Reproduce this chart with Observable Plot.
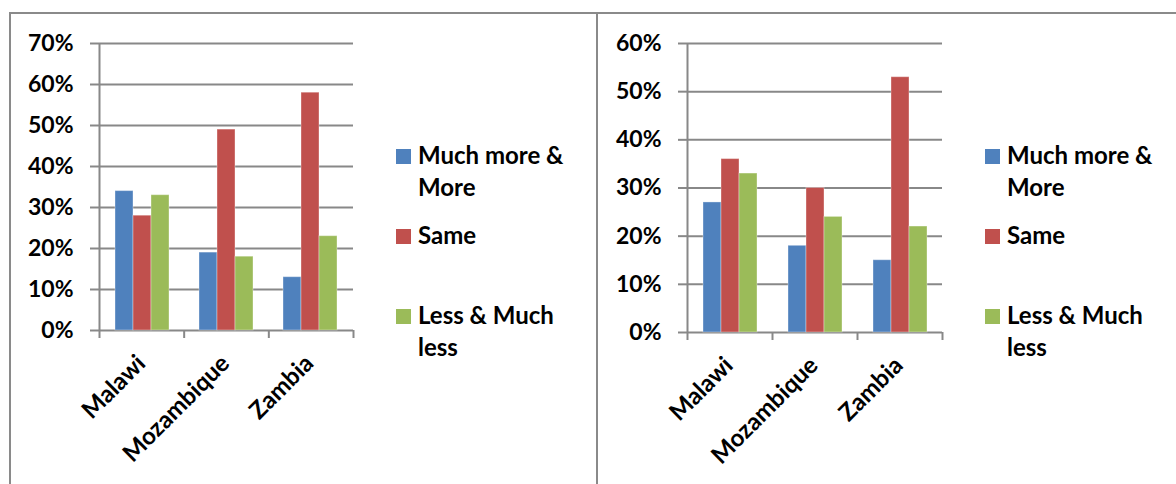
<!DOCTYPE html>
<html><head><meta charset="utf-8">
<script src="https://cdn.jsdelivr.net/npm/d3@7"></script>
<script src="https://cdn.jsdelivr.net/npm/@observablehq/plot@0.6"></script>
<style>
body{margin:0;background:#fff;}
#root{position:relative;width:1176px;height:484px;overflow:hidden;background:#fff;font-family:Lato,sans-serif;}
#root svg{position:absolute;left:0;top:0;}
.frame{position:absolute;border-color:#8a8a8a;border-style:solid;border-width:0;}
</style></head><body>
<div id="root">
<div class="frame" style="left:9px;top:12px;width:1200px;height:500px;border-left-width:2px;border-top-width:2px"></div>
<div class="frame" style="left:596px;top:12px;width:0;height:500px;border-left-width:2px"></div>
</div>
<script>
const categories = ["Malawi", "Mozambique", "Zambia"];
const series = ["Much more & More", "Same", "Less & Much less"];
const colors = ["#4F81BD", "#C0504D", "#9BBB59"];

// left panel
const leftMuchMore = [0.34, 0.19, 0.13];
const leftSame     = [0.28, 0.49, 0.58];
const leftLess     = [0.33, 0.18, 0.23];
const leftTicks    = [0, 0.1, 0.2, 0.3, 0.4, 0.5, 0.6, 0.7];

// right panel
const rightMuchMore = [0.27, 0.18, 0.15];
const rightSame     = [0.36, 0.30, 0.53];
const rightLess     = [0.33, 0.24, 0.22];
const rightTicks    = [0, 0.1, 0.2, 0.3, 0.4, 0.5, 0.6];

const GRID = "#888888";
const FONT = "Lato, sans-serif";
const root = document.getElementById("root");

function panel(cfg) {
  const data = series.flatMap((s, si) => cfg.values[si].map((v, ci) => ({country: categories[ci], series: s, value: v})));
  const common = {
    width: 1176, height: 484,
    marginLeft: cfg.x0, marginRight: 1176 - cfg.x1, marginTop: cfg.yTop, marginBottom: 484 - cfg.y0,
    style: {background: "transparent", fontFamily: FONT, fontWeight: "bold", fontSize: "23px", color: "#000", overflow: "visible"}
  };
  const yDom = [0, cfg.ticks[cfg.ticks.length - 1]];
  const axes = Plot.plot({
    ...common,
    x: {type: "linear", domain: [0, categories.length], axis: null},
    y: {domain: yDom, axis: null},
    marks: [
      Plot.gridY(cfg.ticks, {stroke: GRID, strokeOpacity: 1, strokeWidth: 2}),
      Plot.axisY(cfg.ticks, {tickSize: 9, tickPadding: 17, tickFormat: d3.format(".0%"), stroke: GRID, strokeWidth: 2, strokeOpacity: 1, fill: "#000", fontSize: 23, fontWeight: "bold", label: null}),
      Plot.axisX(d3.range(categories.length + 1), {tickSize: 8, tickFormat: () => "", stroke: GRID, strokeWidth: 2, strokeOpacity: 1, label: null}),
      Plot.ruleX([0], {stroke: GRID, strokeWidth: 2})
    ]
  });
  const bars = Plot.plot({
    ...common,
    fx: {domain: categories, padding: 0, label: null},
    x: {domain: series, paddingInner: 0, paddingOuter: 0.74, axis: null},
    y: {domain: yDom, axis: null},
    color: {domain: series, range: colors},
    marks: [
      Plot.barY(data, {fx: "country", x: "series", y: "value", fill: "series", stroke: "#ffffff", strokeOpacity: 0.35, strokeWidth: 1}),
      Plot.axisFx({anchor: "bottom", tickRotate: -45, tickSize: 0, tickPadding: 29, dx: -1, fontSize: 24, fontWeight: "bold", fill: "#000", label: null})
    ]
  });
  root.appendChild(axes);
  root.appendChild(bars);

  // legend
  const svg = d3.select(root).append("svg").attr("width", 1176).attr("height", 484)
    .style("font-family", FONT).style("font-weight", "bold").style("font-size", "24px");
  const ctx = document.createElement("canvas").getContext("2d");
  ctx.font = "bold 24px " + FONT;
  series.forEach((s, i) => {
    const top = cfg.legendTop + i * 80;
    svg.append("rect").attr("x", cfg.legendX).attr("y", top).attr("width", 15).attr("height", 15).attr("fill", colors[i]);
    const words = s.split(" ");
    const lines = [];
    let cur = "";
    for (const w of words) {
      const t = cur ? cur + " " + w : w;
      if (cur && ctx.measureText(t).width > cfg.legendWrap) { lines.push(cur); cur = w; } else cur = t;
    }
    lines.push(cur);
    lines.forEach((ln, k) => {
      svg.append("text").attr("x", cfg.legendX + 22).attr("y", top + 15 + k * 32).attr("fill", "#000").text(ln);
    });
  });
}

panel({values: [leftMuchMore, leftSame, leftLess], ticks: leftTicks, x0: 99, x1: 353, yTop: 43, y0: 330, legendX: 396, legendTop: 149, legendWrap: 160});
panel({values: [rightMuchMore, rightSame, rightLess], ticks: rightTicks, x0: 687, x1: 942, yTop: 43, y0: 332, legendX: 985, legendTop: 149, legendWrap: 160});
</script>
</body></html>
